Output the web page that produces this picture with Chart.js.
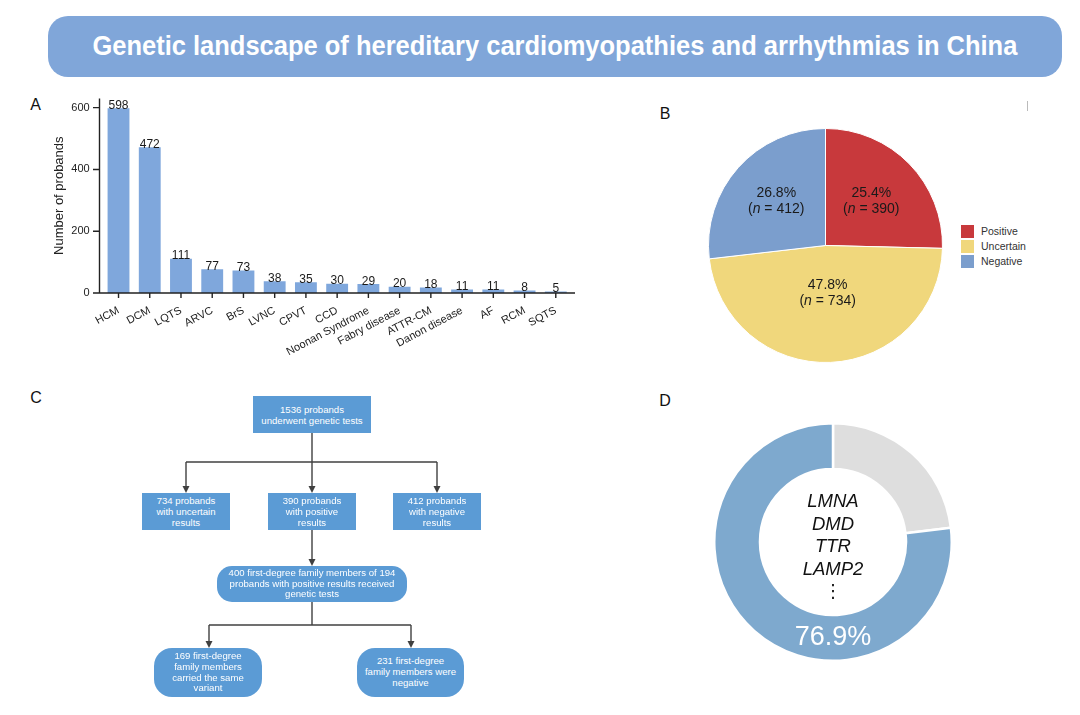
<!DOCTYPE html>
<html><head><meta charset="utf-8">
<script src="https://cdn.jsdelivr.net/npm/chart.js@4.4.0/dist/chart.umd.min.js"></script>
<style>
html,body{margin:0;padding:0;background:#fff;width:1080px;height:715px;overflow:hidden;font-family:"Liberation Sans",Arial,sans-serif;}
.abs{position:absolute;}
#banner{left:48px;top:16px;width:1014px;height:61px;border-radius:20px;background:#80a6d9;display:flex;align-items:center;justify-content:center;}
#banner span{color:#fff;font-weight:bold;font-size:27px;display:inline-block;transform:scaleX(0.944);white-space:nowrap;}
.panel{font-size:16px;color:#111;line-height:20px;height:20px;width:20px;text-align:center;}
.box{background:#5b9bd5;color:#fff;font-size:9.6px;line-height:11px;display:flex;align-items:center;justify-content:center;text-align:center;}
.leg{font-size:10.5px;color:#333;line-height:13px;height:13px;}
.sw{width:13px;height:13px;}
canvas{position:absolute;}
</style></head><body>
<div id="banner" class="abs"><span>Genetic landscape of hereditary cardiomyopathies and arrhythmias in China</span></div>

<div class="abs panel" style="left:25.5px;top:94.5px;">A</div>
<div class="abs panel" style="left:655px;top:104px;">B</div>
<div class="abs panel" style="left:26px;top:388px;">C</div>
<div class="abs panel" style="left:655px;top:391px;">D</div>
<div class="abs" style="left:1027px;top:101px;width:1px;height:10px;background:#bbb;"></div>

<canvas id="cA" width="562" height="290" style="left:28px;top:92px;"></canvas>
<canvas id="cB" width="235" height="235" style="left:708px;top:128px;"></canvas>
<canvas id="cD" width="240" height="240" style="left:713px;top:422px;"></canvas>

<div id="legendB"></div>

<!-- Flowchart (panel C) -->
<svg class="abs" style="left:0;top:0;" width="1080" height="715">
  <g stroke="#404040" stroke-width="1.4" fill="none">
    <line x1="312" y1="433" x2="312" y2="487"/>
    <line x1="186" y1="462" x2="437" y2="462"/>
    <line x1="186" y1="462" x2="186" y2="487"/>
    <line x1="437" y1="462" x2="437" y2="487"/>
    <line x1="312" y1="530" x2="312" y2="560"/>
    <line x1="312" y1="602" x2="312" y2="625"/>
    <line x1="209" y1="625" x2="411" y2="625"/>
    <line x1="209" y1="625" x2="209" y2="642"/>
    <line x1="411" y1="625" x2="411" y2="642"/>
  </g>
  <g fill="#404040">
    <polygon points="182.5,486 189.5,486 186,493"/>
    <polygon points="308.5,486 315.5,486 312,493"/>
    <polygon points="433.5,486 440.5,486 437,493"/>
    <polygon points="308.5,559 315.5,559 312,566"/>
    <polygon points="205.5,641 212.5,641 209,648"/>
    <polygon points="407.5,641 414.5,641 411,648"/>
  </g>
</svg>
<div class="abs box" style="left:253px;top:396px;width:118px;height:37px;">1536 probands<br>underwent genetic tests</div>
<div class="abs box" style="left:142px;top:493px;width:88px;height:37px;">734 probands<br>with uncertain<br>results</div>
<div class="abs box" style="left:268px;top:493px;width:88px;height:37px;">390 probands<br>with positive<br>results</div>
<div class="abs box" style="left:393px;top:493px;width:88px;height:37px;">412 probands<br>with negative<br>results</div>
<div class="abs box" style="left:217px;top:566px;width:190px;height:36px;border-radius:15px;line-height:10.5px;">400 first-degree family members of 194<br>probands with positive results received<br>genetic tests</div>
<div class="abs box" style="left:154px;top:648px;width:108px;height:49px;border-radius:18px;line-height:10.7px;">169 first-degree<br>family members<br>carried the same<br>variant</div>
<div class="abs box" style="left:357px;top:648px;width:107px;height:49px;border-radius:18px;line-height:10.7px;">231 first-degree<br>family members were<br>negative</div>

<script>
// ---------- DATA ----------
const diseases = ['HCM','DCM','LQTS','ARVC','BrS','LVNC','CPVT','CCD','Noonan Syndrome','Fabry disease','ATTR-CM','Danon disease','AF','RCM','SQTS'];
const probands = [598,472,111,77,73,38,35,30,29,20,18,11,11,8,5];
const yTicks = [0,200,400,600];

const outcomeLabels = ['Positive','Uncertain','Negative'];
const outcomeCounts = [390,734,412];

const geneSegments = ['Other','Genes'];
const geneShares = [23.1,76.9];
const geneList = ['LMNA','DMD','TTR','LAMP2'];

// ---------- STYLE ----------
const FONT = '"Liberation Sans", Arial, sans-serif';
Chart.defaults.font.family = FONT;
const barColor = '#7fa7dc';
const outcomeColors = ['#c8393c','#f0d77c','#7b9ecd'];
const pieLabelRadius = [0.547,0.41,0.564];
const geneColors = ['#dedede','#7ea9ce'];

// ---------- PANEL A ----------
const axisPlugin = {
  id:'axisA',
  afterDatasetsDraw(chart){
    const {ctx, chartArea, scales:{x, y}} = chart;
    ctx.save();
    ctx.strokeStyle = '#222'; ctx.lineWidth = 1.4;
    const x0 = chartArea.left - 3.4;
    const yb = y.getPixelForValue(0);
    ctx.beginPath();
    ctx.moveTo(x0, y.getPixelForValue(y.max));
    ctx.lineTo(x0, yb);
    ctx.lineTo(chartArea.right + 3.6, yb);
    yTicks.forEach(v=>{ const py = y.getPixelForValue(v); ctx.moveTo(x0-6.5, py); ctx.lineTo(x0, py); });
    diseases.forEach((d,i)=>{ const px = x.getPixelForValue(i); ctx.moveTo(px, yb); ctx.lineTo(px, yb+5); });
    ctx.stroke();
    ctx.fillStyle = '#1a1a1a';
    ctx.font = '12px ' + FONT;
    ctx.textAlign = 'center'; ctx.textBaseline = 'alphabetic';
    chart.getDatasetMeta(0).data.forEach((bar,i)=>{
      ctx.fillText(String(probands[i]), bar.x, bar.y + 0.5);
    });
    ctx.restore();
  }
};

new Chart(document.getElementById('cA'), {
  type:'bar',
  data:{labels:diseases, datasets:[{data:probands, backgroundColor:barColor, barPercentage:0.70, categoryPercentage:1}]},
  options:{
    responsive:false, animation:false, events:[],
    layout:{padding:{top:6.4, right:18.6, left:0, bottom:0}},
    plugins:{legend:{display:false}, tooltip:{enabled:false}},
    scales:{
      x:{
        grid:{display:false, drawTicks:false}, border:{display:false},
        ticks:{autoSkip:false, minRotation:28, maxRotation:28, color:'#222', font:{size:11}, padding:11},
        afterFit(s){ s.height = 89; s.paddingLeft = 0; s.paddingRight = 0; }
      },
      y:{
        min:0, max:630,
        grid:{display:false, drawTicks:false}, border:{display:false},
        ticks:{stepSize:200, padding:13.2, color:'#222', font:{size:11}},
        afterBuildTicks(s){ s.ticks = yTicks.map(v=>({value:v})); },
        afterFit(s){ s.width = 74.9; s.paddingTop = 0; s.paddingBottom = 0; },
        title:{display:true, text:'Number of probands', color:'#222', font:{size:13}, padding:{top:23.9,bottom:0}}
      }
    }
  },
  plugins:[axisPlugin]
});

// ---------- PANEL B ----------
const pieLabelPlugin = {
  id:'pieLabels',
  afterDatasetsDraw(chart){
    const {ctx} = chart;
    const total = outcomeCounts.reduce((a,b)=>a+b,0);
    ctx.save();
    ctx.fillStyle = '#1a1a1a'; ctx.textBaseline = 'middle';
    chart.getDatasetMeta(0).data.forEach((arc,i)=>{
      const {x,y,startAngle,endAngle,outerRadius} = arc.getProps(['x','y','startAngle','endAngle','outerRadius'], true);
      const mid = (startAngle+endAngle)/2, r = outerRadius*pieLabelRadius[i];
      const cx = x + Math.cos(mid)*r, cy = y + Math.sin(mid)*r;
      ctx.font = '14px ' + FONT; ctx.textAlign = 'center';
      ctx.fillText((outcomeCounts[i]/total*100).toFixed(1)+'%', cx, cy-8);
      const parts = [['(',false],['n',true],[' = '+outcomeCounts[i]+')',false]];
      let w = 0;
      parts.forEach(p=>{ ctx.font=(p[1]?'italic ':'')+'14px '+FONT; w += ctx.measureText(p[0]).width; });
      let px = cx - w/2; ctx.textAlign = 'left';
      parts.forEach(p=>{ ctx.font=(p[1]?'italic ':'')+'14px '+FONT; ctx.fillText(p[0], px, cy+8); px += ctx.measureText(p[0]).width; });
    });
    ctx.restore();
  }
};
new Chart(document.getElementById('cB'), {
  type:'pie',
  data:{labels:outcomeLabels, datasets:[{data:outcomeCounts, backgroundColor:outcomeColors, borderColor:'#ffffff', borderWidth:1, hoverOffset:0}]},
  options:{responsive:false, animation:false, events:[], plugins:{legend:{display:false}, tooltip:{enabled:false}}},
  plugins:[pieLabelPlugin]
});
// legend for B
(function(){
  const host = document.getElementById('legendB');
  outcomeLabels.forEach((lab,i)=>{
    const top = 225 + i*15;
    host.insertAdjacentHTML('beforeend',
      `<div class="abs sw" style="left:961px;top:${top}px;background:${outcomeColors[i]};"></div>`+
      `<div class="abs leg" style="left:981px;top:${top}px;">${lab}</div>`);
  });
})();

// ---------- PANEL D ----------
const donutTextPlugin = {
  id:'donutText',
  afterDatasetsDraw(chart){
    const {ctx} = chart;
    const arc = chart.getDatasetMeta(0).data[0];
    const {x,y,innerRadius,outerRadius} = arc.getProps(['x','y','innerRadius','outerRadius'], true);
    ctx.save();
    ctx.fillStyle = '#111'; ctx.textAlign = 'center'; ctx.textBaseline = 'middle';
    ctx.font = 'italic 18.5px ' + FONT;
    geneList.forEach((g,i)=>ctx.fillText(g, x, y + (i-2)*22.5 + 5));
    ctx.font = '18px "DejaVu Sans", ' + FONT;
    ctx.fillText('\u22EE', x, y + 2*22.5 + 5);
    ctx.fillStyle = '#ffffff';
    ctx.font = '27px ' + FONT;
    ctx.fillText(geneShares[1].toFixed(1)+'%', x, y + (innerRadius+outerRadius)/2);
    ctx.restore();
  }
};
new Chart(document.getElementById('cD'), {
  type:'doughnut',
  data:{labels:geneSegments, datasets:[{data:geneShares, backgroundColor:geneColors, borderColor:'#ffffff', borderWidth:2.5, hoverOffset:0}]},
  options:{responsive:false, animation:false, events:[], cutout:'61.5%', plugins:{legend:{display:false}, tooltip:{enabled:false}}},
  plugins:[donutTextPlugin]
});
</script>
</body></html>
